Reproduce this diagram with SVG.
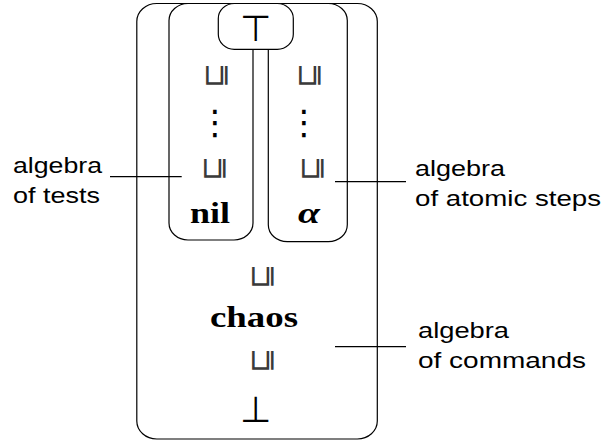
<svg xmlns="http://www.w3.org/2000/svg" width="604" height="441" viewBox="0 0 604 441">
<style>
.box{fill:none;stroke:#000;stroke-width:1.2}
.wbox{fill:#fff;stroke:#000;stroke-width:1.2}
.ln{stroke:#000;stroke-width:1.2;fill:none}
.lbl{font-family:"Liberation Sans",Arial,sans-serif;font-size:22px;fill:#000}
.sym{font-family:"DejaVu Sans",sans-serif;font-weight:200;fill:#000}
.dots{font-family:"DejaVu Sans",sans-serif;font-size:34px;fill:#000;text-anchor:middle;dominant-baseline:central}
.rel{font-family:"DejaVu Sans",sans-serif;font-weight:200;font-size:30px;fill:#3a3a3a;text-anchor:middle;dominant-baseline:central}
.bold{font-family:"Liberation Serif","DejaVu Serif",serif;font-weight:bold;font-size:30px;fill:#000}
</style>
<rect width="604" height="441" fill="#fff"/>
<g id="commands">
<rect class="box" x="136.8" y="3.5" width="240.5" height="435.5" rx="20" ry="18"/>
<text class="rel" transform="translate(260,276.5) rotate(-90)">⊑</text>
<text class="bold" x="210" y="327" textLength="88" lengthAdjust="spacingAndGlyphs">chaos</text>
<text class="rel" transform="translate(260,360.5) rotate(-90)">⊑</text>
<text class="sym" x="255.5" y="422.3" font-size="36" text-anchor="middle">⊥</text>
</g>
<g id="tests">
<rect class="box" x="169" y="3.5" width="84" height="236.5" rx="19" ry="17"/>
<text class="rel" transform="translate(214,75.5) rotate(-90)">⊑</text>
<text class="dots" x="215" y="122">⋮</text>
<text class="rel" transform="translate(212,168) rotate(-90)">⊑</text>
<text class="bold" x="190" y="223" textLength="40" lengthAdjust="spacingAndGlyphs">nil</text>
</g>
<g id="atomic">
<rect class="box" x="268.3" y="3.5" width="79" height="238.2" rx="19" ry="17"/>
<text class="rel" transform="translate(307.5,75.5) rotate(-90)">⊑</text>
<text class="dots" x="304" y="122">⋮</text>
<text class="rel" transform="translate(310,168) rotate(-90)">⊑</text>
<text class="bold" x="298" y="223" font-style="italic" textLength="22" lengthAdjust="spacingAndGlyphs">α</text>
</g>
<g id="top">
<rect class="wbox" x="218.3" y="3.5" width="75" height="45.8" rx="16" ry="15"/>
<text class="sym" x="255.5" y="40.7" font-size="36" text-anchor="middle">⊤</text>
</g>
<g id="connectors">
<line class="ln" x1="110" y1="176.7" x2="181.7" y2="176.7"/>
<line class="ln" x1="335" y1="181.7" x2="406" y2="181.7"/>
<line class="ln" x1="335" y1="346.7" x2="406" y2="346.7"/>
</g>
<g id="labels">
<text class="lbl" x="13" y="173" textLength="89" lengthAdjust="spacingAndGlyphs">algebra</text>
<text class="lbl" x="13" y="203" textLength="87" lengthAdjust="spacingAndGlyphs">of tests</text>
<text class="lbl" x="415" y="176" textLength="90" lengthAdjust="spacingAndGlyphs">algebra</text>
<text class="lbl" x="415" y="206" textLength="186" lengthAdjust="spacingAndGlyphs">of atomic steps</text>
<text class="lbl" x="418" y="338" textLength="91" lengthAdjust="spacingAndGlyphs">algebra</text>
<text class="lbl" x="418" y="368" textLength="168" lengthAdjust="spacingAndGlyphs">of commands</text>
</g>
</svg>
